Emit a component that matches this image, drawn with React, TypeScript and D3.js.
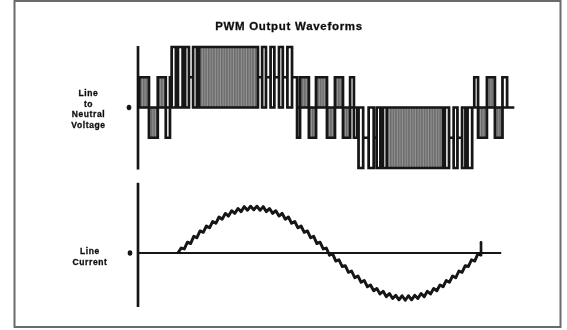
import React from "react";
import * as d3 from "d3";

// ---------- text ----------
const TITLE = "PWM Output Waveforms";
const VOLT_LABEL = ["Line", "to", "Neutral", "Voltage"];
const CURR_LABEL = ["Line", "Current"];

// ---------- line-to-neutral voltage (x in electrical degrees, level in steps of Vdc/3) ----------
// contiguous intervals: edges[i]..edges[i+1] spans voltLow[i]..voltHigh[i]
const voltEdges = [
  -46, -34.5, -24, -14.5, -9.5, -7.5, -2.5, 0, 5.5, 8.5, 13, 18, 22.5, 25, 95, 100,
  104.5, 110, 114.5, 120, 124.5, 130, 135.5, 141.5, 145, 155.5, 164, 177, 186.5, 196,
  204.5, 209, 213, 214.5, 220, 226.5, 232.5, 236, 240.5, 243.5, 248, 315, 317, 322,
  327.5, 332, 337.5, 341.5, 344, 349.5, 352, 356.5, 367, 376.5, 385.5, 391, 398,
];
const voltHigh = [
  1, 0, 1, 0, 1, 2, 1, 2, 1, 2, 1, 2, 1, 2, 1, 2, 1, 2, 1, 2, 1, 2, 1, 0, 1, 0, 1, 0,
  1, 0, 1, 0, -1, 0, -1, 0, -1, 0, -1, 0, 0, -1, 0, -1, 0, -1, 0, -1, 0, 0, 1, 0, 1, 0,
  1, 0,
];
const voltLow = [
  0, -1, 0, -1, 1, 0, 1, 0, 1, 0, 1, 0, 1, 0, 1, 0, 1, 0, 1, 0, 1, 0, 1, -1, 0, -1, 0,
  -1, 0, -1, 0, -1, -1, -2, -1, -2, -1, -2, -1, -2, -2, -1, -2, -1, -2, -1, -2, -1, -2,
  0, 0, -1, 0, -1, 0, 0,
];
// D = densely switched (shaded) band
const voltDense = (
  "DDDO" + "LOLOLOLOL" + "D" + "LOLOLOLOL" + "ODDDDDDOO" + "LOLOLOLO" + "D" + "LOLOLOLO" + "LODDDOL"
).split("").map((c) => c === "D");

// ---------- line current (% of peak), sampled every 3.75 electrical degrees ----------
const currentStep = 3.75;
const currentVals = [
  0, 11, 9, 24, 21, 37, 34, 49, 46, 60, 56, 70, 66, 80, 75, 88, 82, 94, 88, 99, 92, 103,
  95, 104, 96, 104, 95, 103, 92, 99, 88, 94, 82, 88, 75, 80, 66, 70, 56, 60, 46, 49, 34,
  37, 21, 24, 9, 11, -5, -2, -18, -15, -30, -28, -43, -40, -55, -51, -65, -61, -75, -71,
  -84, -79, -91, -85, -97, -90, -101, -94, -104, -95, -105, -95, -104, -94, -101, -90,
  -97, -85, -91, -79, -84, -71, -75, -61, -65, -51, -55, -40, -43, -28, -30, -15, -18,
  -2, -5,
];
const currentEndTick = [-5, 24];

export default function App() {
  const W = 567;
  const H = 330;
  const x = d3.scaleLinear().domain([-47.5, 398]).range([138, 513]);
  const yV = d3.scaleLinear().domain([-2, 2]).range([168, 47]);
  const yI = d3.scaleLinear().domain([-100, 100]).range([298, 208]);

  const segs = voltHigh.map((h, i) => ({
    x0: x(voltEdges[i]),
    x1: x(voltEdges[i + 1]),
    h,
    l: voltLow[i],
    dense: voltDense[i],
  }));

  let vPath = "";
  segs.forEach((s) => {
    vPath += `M${s.x0},${yV(s.h)}H${s.x1}`;
    if (s.l !== s.h) vPath += `M${s.x0},${yV(s.l)}H${s.x1}`;
  });
  for (let i = 0; i <= segs.length; i++) {
    const a = segs[i - 1];
    const b = segs[i];
    const hi = Math.max(a ? a.h : -9, b ? b.h : -9);
    const lo = Math.min(a ? a.l : 9, b ? b.l : 9);
    if (hi > lo) vPath += `M${x(voltEdges[i])},${yV(hi)}V${yV(lo)}`;
  }

  const currentLine = d3
    .line<number>()
    .x((_, i) => x(i * currentStep))
    .y((v) => yI(v));
  const endDeg = (currentVals.length - 1) * currentStep;

  const ink = "#121212";
  const font = "'Liberation Sans', Arial, sans-serif";

  return (
    <svg
      width={W}
      height={H}
      style={{ position: "absolute", left: 0, top: 0, background: "#fff" }}
      fontFamily={font}
    >
      <defs>
        <pattern id="dense" width="2.6" height="8" patternUnits="userSpaceOnUse">
          <rect width="2.6" height="8" fill="#949494" />
          <rect x="0.3" width="1" height="8" fill="#555" />
        </pattern>
        <filter id="soft" x="-5%" y="-5%" width="110%" height="110%">
          <feGaussianBlur stdDeviation="0.45" />
        </filter>
      </defs>
      <rect x={0} y={0} width={W} height={H} fill="#fff" />
      <g filter="url(#soft)">
        {/* frame */}
        <rect x={14.5} y={1} width={546} height={326} fill="none" stroke="#6a6a6a" strokeWidth={2} />

        {/* title */}
        <text x={289} y={30} textAnchor="middle" fontSize={11.5} fontWeight="bold" letterSpacing={0.7} fill="#111" stroke="#111" strokeWidth={0.3}>
          {TITLE}
        </text>

        {/* voltage panel */}
        {VOLT_LABEL.map((t, i) => (
          <text key={t} x={88.5} y={96 + i * 10.5} textAnchor="middle" fontSize={8.5} fontWeight="bold" letterSpacing={0.6} fill="#111" stroke="#111" strokeWidth={0.3}>
            {t}
          </text>
        ))}
        <ellipse cx={129} cy={yV(0)} rx={2.3} ry={2.8} fill={ink} />
        <line x1={x(-47.5)} x2={x(-47.5)} y1={yV(2.03)} y2={yV(-2.05)} stroke={ink} strokeWidth={2.7} />
        {segs
          .filter((s) => s.dense)
          .map((s, i) => (
            <rect key={i} x={s.x0} y={yV(s.h)} width={s.x1 - s.x0} height={yV(s.l) - yV(s.h)} fill="url(#dense)" />
          ))}
        <path d={vPath} fill="none" stroke={ink} strokeWidth={2.7} strokeLinecap="square" />

        {/* current panel */}
        {CURR_LABEL.map((t, i) => (
          <text key={t} x={90} y={254 + i * 11} textAnchor="middle" fontSize={8.5} fontWeight="bold" letterSpacing={0.6} fill="#111" stroke="#111" strokeWidth={0.3}>
            {t}
          </text>
        ))}
        <ellipse cx={130} cy={yI(0)} rx={2.3} ry={2.8} fill={ink} />
        <line x1={x(-47.5)} x2={x(-47.5)} y1={yI(156)} y2={yI(-120)} stroke={ink} strokeWidth={2.7} />
        <line x1={x(-47.5)} x2={x(384)} y1={yI(0)} y2={yI(0)} stroke={ink} strokeWidth={2.1} />
        <path d={currentLine(currentVals) || ""} fill="none" stroke={ink} strokeWidth={2.9} strokeLinejoin="round" />
        <line
          x1={x(endDeg)}
          x2={x(endDeg)}
          y1={yI(currentEndTick[0])}
          y2={yI(currentEndTick[1])}
          stroke={ink}
          strokeWidth={2.6}
          strokeLinecap="round"
        />
      </g>
    </svg>
  );
}
